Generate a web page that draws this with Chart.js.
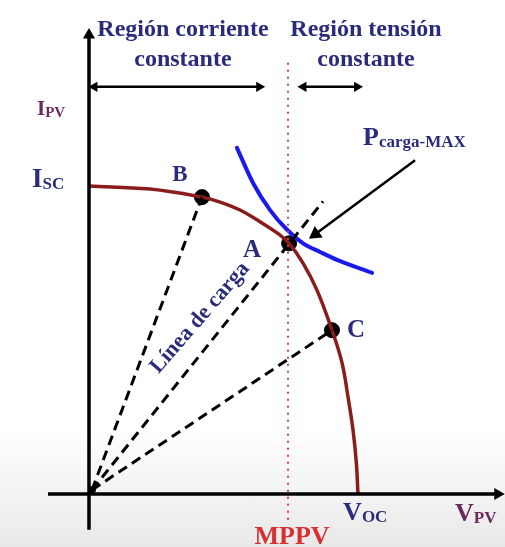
<!DOCTYPE html>
<html>
<head>
<meta charset="utf-8">
<script src="https://cdn.jsdelivr.net/npm/chart.js@4.4.1/dist/chart.umd.min.js"></script>
<style>
  html, body { margin: 0; padding: 0; }
  body { width: 505px; height: 547px; background: linear-gradient(to bottom, #ffffff 0%, #ffffff 78%, #e9e9e9 100%); }
  #wrap { position: relative; width: 505px; height: 547px; }
</style>
</head>
<body>
<div id="wrap"><canvas id="chart"></canvas></div>
<script>
// I-V curve of the panel (V in volts, I in amps)
const curveV = [0, 4.55, 8.43, 9.78, 11.27, 12.76, 14.03, 14.93, 15.97, 17.01, 18.13, 18.88, 19.33, 19.70, 19.95, 20.07];
const curveI = [5.0, 4.95, 4.82, 4.74, 4.61, 4.42, 4.24, 4.07, 3.75, 3.31, 2.66, 2.13, 1.57, 1.04, 0.50, 0];

// max load power curve
const powerV = [11.04, 12.24, 13.51, 14.78, 15.97, 17.24, 18.51, 21.12];
const powerI = [5.62, 5.05, 4.61, 4.29, 4.07, 3.93, 3.80, 3.59];

// operating points B, A, C
const pointNames = ['B', 'A', 'C'];
const pointV = [8.43, 14.93, 18.13];
const pointI = [4.82, 4.07, 2.66];

// load lines start near origin
const originV = 0.22, originI = 0.065;
const loadEndV = [8.43, 17.46, 18.13];
const loadEndI = [4.82, 4.75, 2.66];

const mppV = 14.85;

// helper
function xy(vs, is) { return vs.map((v, i) => ({ x: v, y: is[i] })); }

const datasets = [];

// axes
datasets.push({ data: [{x: 0, y: -0.58}, {x: 0, y: 7.45}], borderColor: '#000', borderWidth: 3.5,
  pointStyle: 'triangle', pointRadius: [0, 7], rotation: [0, 0], backgroundColor: '#000', pointBorderWidth: 0 });
datasets.push({ data: [{x: -3.06, y: 0}, {x: 30.5, y: 0}], borderColor: '#000', borderWidth: 3.5,
  pointStyle: 'triangle', pointRadius: [0, 7], rotation: [0, 90], backgroundColor: '#000', pointBorderWidth: 0 });

// MPPV dotted line
datasets.push({ data: [{x: mppV, y: 7.0}, {x: mppV, y: -0.5}], borderColor: '#e04040', borderWidth: 2,
  borderDash: [2, 5], pointRadius: 0 });

// region arrows
datasets.push({ data: [{x: 0.4, y: 6.61}, {x: 12.7, y: 6.61}], borderColor: '#000', borderWidth: 2.5,
  pointStyle: 'triangle', pointRadius: 6, rotation: [270, 90], backgroundColor: '#000', pointBorderWidth: 0 });
datasets.push({ data: [{x: 16.0, y: 6.61}, {x: 20.0, y: 6.61}], borderColor: '#000', borderWidth: 2.5,
  pointStyle: 'triangle', pointRadius: 6, rotation: [270, 90], backgroundColor: '#000', pointBorderWidth: 0 });

// load lines (dashed)
loadEndV.forEach((v, i) => {
  datasets.push({ data: [{x: originV, y: originI}, {x: v, y: loadEndI[i]}], borderColor: '#000', borderWidth: 3,
    borderDash: [10, 6], pointRadius: 0 });
});

// I-V curve
datasets.push({ data: xy(curveV, curveI), borderColor: '#8b1c1c', borderWidth: 3.5, tension: 0.4, pointRadius: 0 });

// power curve
datasets.push({ data: xy(powerV, powerI), borderColor: '#1a1aee', borderWidth: 4,
  cubicInterpolationMode: 'monotone', pointRadius: 0, borderCapStyle: 'round' });

// arrow to P max
datasets.push({ data: [{x: 24.33, y: 5.42}, {x: 16.9, y: 4.22}], borderColor: '#000', borderWidth: 2.5,
  pointStyle: 'triangle', pointRadius: [0, 8], rotation: [0, 234.8], backgroundColor: '#000', pointBorderWidth: 0 });

// points
datasets.push({ data: xy(pointV, pointI), showLine: false, pointRadius: 7.5, backgroundColor: '#000', borderColor: '#000' });
datasets.push({ data: [{x: originV, y: originI}], showLine: false, pointRadius: 3.5, backgroundColor: '#000', borderColor: '#000' });

datasets.forEach(d => { if (d.showLine === undefined) d.showLine = true; d.fill = false; });

const navy = '#2b2b7c';
const purple = '#6b2a5e';
// centred labels (textBaseline middle)
const labels = [
  { text: 'Región corriente', x: 7.01, y: 7.54, size: 24, color: navy },
  { text: 'constante', x: 7.01, y: 7.05, size: 24, color: navy },
  { text: 'Región tensión', x: 20.67, y: 7.54, size: 24, color: navy },
  { text: 'constante', x: 20.67, y: 7.05, size: 24, color: navy },
  { text: pointNames[0], x: 6.79, y: 5.18, size: 23, color: navy },
  { text: pointNames[1], x: 12.16, y: 3.96, size: 25, color: navy },
  { text: pointNames[2], x: 19.93, y: 2.66, size: 25, color: navy },
  { text: 'MPPV', x: 15.15, y: -0.71, size: 26, color: '#d83030' },
  { text: 'Línea de carga', x: 8.28, y: 2.86, size: 22, color: navy, rot: -49 }
];
// symbols with subscript (left x, baseline y)
const symbols = [
  { text: 'I', sub: 'SC', x: -4.25, y: 4.98, size: 27, subSize: 17, color: navy },
  { text: 'I', sub: 'PV', x: -3.88, y: 6.15, size: 21, subSize: 15, color: purple },
  { text: 'P', sub: 'carga-MAX', x: 20.45, y: 5.67, size: 26, subSize: 17, color: navy },
  { text: 'V', sub: 'OC', x: 18.96, y: -0.42, size: 26, subSize: 17, color: navy },
  { text: 'V', sub: 'PV', x: 27.31, y: -0.44, size: 26, subSize: 17, color: purple }
];

const font = (s) => 'bold ' + s + 'px "Liberation Serif", serif';

const textPlugin = {
  id: 'texts',
  afterDatasetsDraw(chart) {
    const ctx = chart.ctx, sx = chart.scales.x, sy = chart.scales.y;
    labels.forEach(l => {
      ctx.save();
      ctx.fillStyle = l.color;
      ctx.textBaseline = 'middle';
      ctx.textAlign = 'center';
      ctx.translate(sx.getPixelForValue(l.x), sy.getPixelForValue(l.y));
      if (l.rot) ctx.rotate(l.rot * Math.PI / 180);
      ctx.font = font(l.size);
      ctx.fillText(l.text, 0, 0);
      ctx.restore();
    });
    symbols.forEach(l => {
      const px = sx.getPixelForValue(l.x), py = sy.getPixelForValue(l.y);
      ctx.save();
      ctx.fillStyle = l.color;
      ctx.textBaseline = 'alphabetic';
      ctx.textAlign = 'left';
      ctx.font = font(l.size);
      ctx.fillText(l.text, px, py);
      const w = ctx.measureText(l.text).width;
      ctx.font = font(l.subSize);
      ctx.fillText(l.sub, px + w, py + 2);
      ctx.restore();
    });
  }
};

new Chart(document.getElementById('chart'), {
  type: 'scatter',
  data: { datasets: datasets },
  options: {
    responsive: true,
    maintainAspectRatio: false,
    animation: false,
    layout: { padding: 0, autoPadding: false },
    plugins: { legend: { display: false }, tooltip: { enabled: false } },
    scales: {
      x: { type: 'linear', min: -6.64, max: 31.04, display: false },
      y: { type: 'linear', min: -0.86, max: 8.02, display: false }
    }
  },
  plugins: [textPlugin]
});
</script>
</body>
</html>
